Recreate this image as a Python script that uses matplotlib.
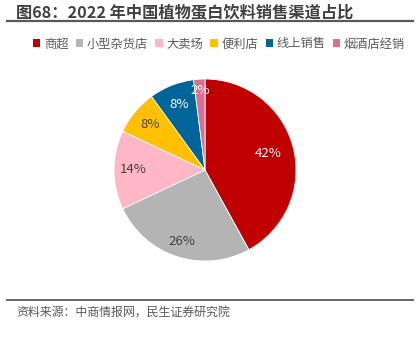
import matplotlib
matplotlib.use("Agg")
import matplotlib.pyplot as plt
from matplotlib.patches import Patch
from matplotlib.lines import Line2D
import numpy as np

plt.rcParams['font.family'] = ['Noto Sans CJK SC', 'DejaVu Sans']

# 销售渠道占比 (%)
channels = ["商超", "小型杂货店", "大卖场", "便利店", "线上销售", "烟酒店经销"]
shares = [42, 26, 14, 8, 8, 2]
colors = ["#C00000", "#B4B4B4", "#FFB7C5", "#FFC000", "#02659A", "#D9708F"]
label_colors = ["white", "#404040", "#404040", "#404040", "white", "white"]
label_dist = [0.72, 0.83, 0.79, 0.78, 0.78, 0.88]

title = "图68：2022 年中国植物蛋白饮料销售渠道占比"
source = "资料来源：中商情报网，民生证券研究院"

W, H = 420, 339
fig = plt.figure(figsize=(W / 100, H / 100), dpi=100)

# title and rule
fig.text(16 / W, 1 - 12 / H, title, fontsize=11.7, fontweight="bold",
         color="#404040", ha="left", va="center")
fig.add_artist(Line2D([7 / W, 413 / W], [1 - 21 / H, 1 - 21 / H],
                      color="#595959", lw=1.6))

# pie
R = 91
cx, cy = 205, 170
ax = fig.add_axes([(cx - R) / W, (H - cy - R) / H, 2 * R / W, 2 * R / H])
wedges, _ = ax.pie(shares, colors=colors, startangle=90, counterclock=False,
                   radius=1.0, wedgeprops=dict(edgecolor="white", linewidth=0.6))
ax.set_xlim(-1, 1)
ax.set_ylim(-1, 1)
ax.axis("off")

for w, val, c, d in zip(wedges, shares, label_colors, label_dist):
    ang = np.deg2rad((w.theta1 + w.theta2) / 2)
    ax.text(d * np.cos(ang), d * np.sin(ang), f"{val}%", fontsize=9.5,
            color=c, ha="center", va="center")

# legend
handles = [Patch(facecolor=c, edgecolor="none") for c in colors]
fig.legend(handles, channels, loc="center", bbox_to_anchor=(219 / W, 1 - 44 / H),
           ncol=6, frameon=False, fontsize=8.8, labelcolor="#595959",
           handlelength=0.6, handleheight=0.6, handletextpad=0.3,
           columnspacing=0.6, borderaxespad=0)

# bottom rule and source
fig.add_artist(Line2D([7 / W, 413 / W], [1 - 300 / H, 1 - 300 / H],
                      color="#595959", lw=1.3))
fig.text(16 / W, 1 - 312 / H, source, fontsize=8.6, color="#595959",
         ha="left", va="center")

fig.savefig("out.png", dpi=100)
